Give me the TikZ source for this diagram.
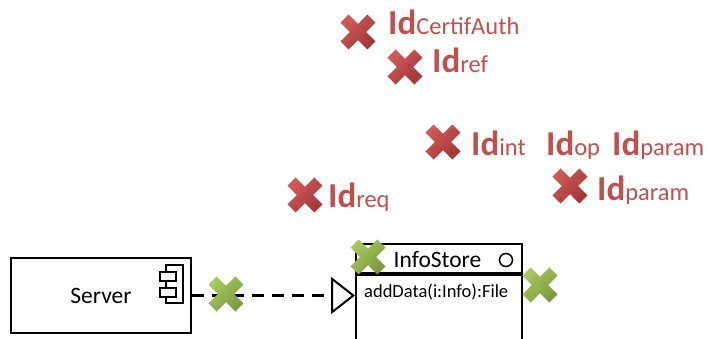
\documentclass[tikz,border=0pt]{standalone}
\usepackage{fontspec}
\setmainfont{Carlito}
\usetikzlibrary{arrows.meta}
\definecolor{xred}{HTML}{C0504D}
\definecolor{xredlight}{HTML}{D25A56}
\definecolor{xreddark}{HTML}{A3363A}
\definecolor{xgreenlight}{HTML}{A8C862}
\definecolor{xgreendark}{HTML}{7C9A3C}
\newcommand\idlab[1]{{\fontsize{35}{35}\selectfont\bfseries Id}{\fontsize{24.5}{24.5}\selectfont #1}}
\tikzset{
  crossarm/.style={rotate=45, shading angle=45},
  pics/redx/.style={code={
    \shade[top color=xredlight, bottom color=xreddark, crossarm]
      (5.8,5.8) -- (5.8,19) -- (-5.8,19) -- (-5.8,5.8) -- (-19,5.8) -- (-19,-5.8)
      -- (-5.8,-5.8) -- (-5.8,-19) -- (5.8,-19) -- (5.8,-5.8) -- (19,-5.8) -- (19,5.8) -- cycle;
  }},
  pics/greenx/.style={code={
    \shade[top color=xgreenlight, bottom color=xgreendark, crossarm]
      (5.8,5.8) -- (5.8,19) -- (-5.8,19) -- (-5.8,5.8) -- (-19,5.8) -- (-19,-5.8)
      -- (-5.8,-5.8) -- (-5.8,-19) -- (5.8,-19) -- (5.8,-5.8) -- (19,-5.8) -- (19,5.8) -- cycle;
  }},
  idtext/.style={anchor=base west, inner sep=0pt, text=xred},
  box/.style={draw, line width=2pt, inner sep=0pt},
}
\begin{document}
\begin{tikzpicture}[x=1pt, y=-1pt]
\useasboundingbox (0,0) rectangle (707,338);

% component: Server
\node[box, minimum width=180pt, minimum height=75pt, font=\fontsize{23.5}{23.5}\selectfont]
  (server) at (101,295.5) {Server};
% component icon
\draw[line width=1.6pt, fill=white] (166,265) rectangle (183,303);
\draw[line width=1.6pt, fill=white] (160,272) rectangle (176,281);
\draw[line width=1.6pt, fill=white] (160,288) rectangle (176,297);

% interface box: InfoStore
\node[box, minimum width=166pt, minimum height=29pt] (hdr) at (439,258.5) {};
\node[box, minimum width=166pt, minimum height=90pt, anchor=north] (body) at (hdr.south) {};
\node[inner sep=0pt, font=\fontsize{23.5}{23.5}\selectfont] (title) at (437.5,259.5) {InfoStore};
\node[draw, circle, line width=1.5pt, minimum size=13pt, inner sep=0pt] (port) at (506,260) {};
\node[anchor=west, inner sep=0pt, font=\fontsize{18.5}{18.5}\selectfont] (op) at (364,292) {addData(i:Info):File};

% realization connector
\coordinate (tip) at (server.east -| body.west);
\draw[line width=2.5pt, dash pattern=on 12pt off 8pt,
      -{Triangle[open, length=24pt, width=37pt, line width=2pt]}]
  (server.east) -- (tip);

% green marks
\pic at (226,294) {greenx};
\pic at (368,257) {greenx};
\pic at (540,285) {greenx};

% red marks
\pic at (358,32) {redx};
\pic at (405,67) {redx};
\pic at (443,142) {redx};
\pic at (570,186) {redx};
\pic at (305,195) {redx};

% identifier labels
\node[idtext] (lcert) at (388,34) {\idlab{CertifAuth}};
\node[idtext] (lref) at (432,72) {\idlab{ref}};
\node[idtext] (lint) at (471,155) {\idlab{int}};
\node[idtext] (lop) at (546,155) {\idlab{op}};
\node[idtext] (lparamA) at (612,155) {\idlab{param}};
\node[idtext] (lparamB) at (597,200) {\idlab{param}};
\node[idtext] (lreq) at (328,207) {\idlab{req}};
\end{tikzpicture}
\end{document}
